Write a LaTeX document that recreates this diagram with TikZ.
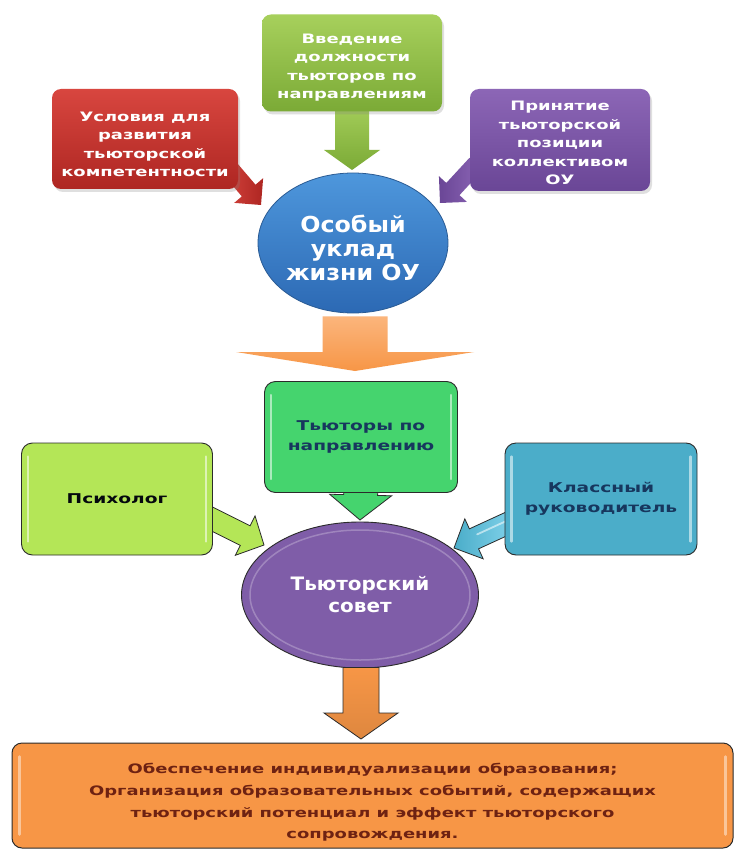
\documentclass[tikz,border=0pt]{standalone}
\usepackage{fontspec}
\setmainfont{DejaVu Sans}
\newfontfamily\fntA[FakeStretch=1.38]{DejaVu Sans}
\newfontfamily\fntB[FakeStretch=1.08]{DejaVu Sans}
\usetikzlibrary{calc,shapes.geometric,shadows}
\definecolor{grnT}{HTML}{A7D05C}
\definecolor{grnB}{HTML}{7BAA36}
\definecolor{redT}{HTML}{D8463F}
\definecolor{redB}{HTML}{AE2622}
\definecolor{purT}{HTML}{8C66B6}
\definecolor{purB}{HTML}{6A4696}
\definecolor{bluT}{HTML}{4E97DC}
\definecolor{bluB}{HTML}{2C69B4}
\definecolor{bluD}{HTML}{2A5B94}
\definecolor{orgA}{HTML}{F79646}
\definecolor{orgL}{HTML}{FBB57C}
\definecolor{tutG}{HTML}{45D46E}
\definecolor{psyG}{HTML}{B4E657}
\definecolor{klsB}{HTML}{4BADC9}
\definecolor{klsL}{HTML}{86D6EE}
\definecolor{sovP}{HTML}{7F5DA8}
\definecolor{navy}{HTML}{17375E}
\definecolor{brwn}{HTML}{6E2212}
\definecolor{edge}{HTML}{2B2B2B}
% block arrow: #1 style, #2 start, #3 tip, #4 shaft half width, #5 head half width, #6 head length
\newcommand\blockarrow[6]{%
  \coordinate (bh) at ($(#3)!#6!(#2)$);
  \path[#1] ($(#2)!#4!90:(#3)$) -- ($(bh)!#4!90:(#3)$) -- ($(bh)!#5!90:(#3)$) -- (#3)
    -- ($(bh)!#5!-90:(#3)$) -- ($(bh)!#4!-90:(#3)$) -- ($(#2)!#4!-90:(#3)$) -- cycle;}
\newcommand\lift[1]{\rule{0pt}{#1}}
\begin{document}
\begin{tikzpicture}[x=1pt,y=-1pt,
  topbox/.style={rectangle, rounded corners=9pt, inner sep=0pt, align=center,
    text=white, font={\fntA\bfseries\fontsize{13}{18.5}\selectfont},
    drop shadow={opacity=0.25, shadow xshift=2pt, shadow yshift=-3pt}},
  lowbox/.style={rectangle, rounded corners=11pt, inner sep=0pt, align=center,
    draw=edge, line width=0.9pt, text=navy,
    font={\fntA\bfseries\fontsize{13.5}{20}\selectfont}},
  gloss/.style={white, opacity=0.55, line width=2.5pt, line cap=round},
  outl/.style={draw=edge, line width=0.8pt}]
\useasboundingbox (0,0) rectangle (735,850);
\fill[white] (0,0) rectangle (735,850);

% ---- top nodes (positions) ----
\path (352,63) coordinate (cv) (145,139) coordinate (cu) (560,140) coordinate (cp)
      (353,243) coordinate (ck);
\coordinate (a1s) at (352,100);
\coordinate (a1t) at (352,170);
\coordinate (a2s) at (226,164);
\coordinate (a2t) at (261,205);
\coordinate (a3s) at (476,164);
\coordinate (a3t) at (440,203);

% arrows into the blue circle (drawn under boxes)
\blockarrow{top color=grnT, bottom color=grnB}{a1s}{a1t}{17pt}{28pt}{20pt}
\blockarrow{left color=redT, right color=redB}{a2s}{a2t}{9pt}{19pt}{19pt}
\blockarrow{left color=purB, right color=purT}{a3s}{a3t}{9pt}{19pt}{19pt}

\node[topbox, minimum width=180pt, minimum height=97pt, top color=grnT, bottom color=grnB]
  (vved) at (cv) {\lift{19pt}Введение\\должности\\тьюторов по\\направлениям};
\node[topbox, minimum width=186pt, minimum height=100pt, top color=redT, bottom color=redB]
  (usl) at (cu) {\lift{20pt}Условия для\\развития\\тьюторской\\компетентности};
\node[topbox, minimum width=180pt, minimum height=102pt, top color=purT, bottom color=purB]
  (prin) at (cp) {\lift{16pt}Принятие\\тьюторской\\позиции\\коллективом\\ОУ};

\node[ellipse, minimum width=190pt, minimum height=140pt, inner sep=0pt,
  top color=bluT, bottom color=bluB, draw=bluD, line width=0.8pt, align=center,
  text=white, font={\fntB\bfseries\fontsize{22}{24}\selectfont}]
  (uklad) at (ck) {\lift{28pt}Особый\\уклад\\жизни ОУ};

% ---- big orange arrow ----
\coordinate (a4s) at ($(uklad.south)+(2,3)$);
\coordinate (a4t) at (355,371);
\blockarrow{top color=orgL, bottom color=orgA}{a4s}{a4t}{32.5pt}{119pt}{19pt}

% ---- lower nodes ----
\coordinate (a5s) at (361,480);
\coordinate (a5t) at (360,520);
\coordinate (a6s) at (200,513);
\coordinate (a6t) at (264,545);
\coordinate (a7s) at (515,520);
\coordinate (a7t) at (454,548);
\blockarrow{fill=tutG, outl}{a5s}{a5t}{17pt}{31pt}{25pt}
\blockarrow{fill=psyG, outl}{a6s}{a6t}{11pt}{22pt}{21pt}
\blockarrow{left color=klsB, right color=klsL, outl}{a7s}{a7t}{11pt}{22pt}{22pt}
\draw[gloss, line width=1.8pt] ($(a7s)!0.15!(a7t)+(0,-3)$) -- ($(a7s)!0.62!(a7t)+(0,-3)$);

\node[lowbox, minimum width=193pt, minimum height=111pt, fill=tutG]
  (tut) at (361,437) {Тьюторы по\\направлению};
\node[lowbox, minimum width=191pt, minimum height=112pt, fill=psyG, text=black!85!navy]
  (psy) at (117,499) {Психолог};
\node[lowbox, minimum width=192pt, minimum height=112pt, fill=klsB]
  (klass) at (601,499) {Классный\\руководитель};
\foreach \b in {tut,psy,klass}{
  \draw[gloss] ($(\b.north west)+(7,14)$) -- ($(\b.south west)+(7,-14)$);
  \draw[gloss] ($(\b.north east)+(-7,14)$) -- ($(\b.south east)+(-7,-14)$);
}

\node[ellipse, minimum width=237pt, minimum height=146pt, inner sep=0pt,
  fill=sovP, draw=edge, line width=0.9pt, align=center, text=white,
  font={\fntB\bfseries\fontsize{18.5}{22}\selectfont}]
  (sovet) at (360,595) {Тьюторский\\совет};
\draw[white, opacity=0.25, line width=1.5pt] (sovet.center) ellipse[x radius=110pt, y radius=65pt];

% ---- bottom ----
\coordinate (a8s) at ($(sovet.south)+(1,-1)$);
\coordinate (a8t) at (361,739);
\blockarrow{top color=orgA, bottom color=orgA!90!black, outl}{a8s}{a8t}{18pt}{37pt}{26pt}

\node[rectangle, rounded corners=10pt, minimum width=721pt, minimum height=105pt,
  inner sep=0pt, fill=orgA, draw=edge, line width=1pt, align=center, text=brwn,
  font={\fntA\bfseries\fontsize{13}{21.7}\selectfont}]
  (res) at (372.5,795.5) {\lift{24pt}Обеспечение индивидуализации образования;\\
  Организация образовательных событий, содержащих\\
  тьюторский потенциал и эффект тьюторского\\
  сопровождения.};
\draw[gloss, opacity=0.45] ($(res.north west)+(8,14)$) -- ($(res.south west)+(8,-14)$);
\draw[gloss, opacity=0.45] ($(res.north east)+(-8,14)$) -- ($(res.south east)+(-8,-14)$);
\end{tikzpicture}
\end{document}
